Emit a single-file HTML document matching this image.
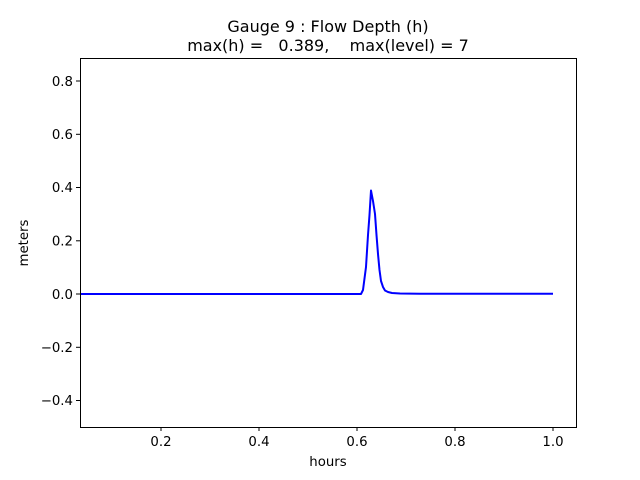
<!DOCTYPE html>
<html><head><style>body{margin:0;background:#fff}svg{display:block}text{font-family:"DejaVu Sans","Liberation Sans",sans-serif;fill:#000}</style></head>
<body>
<svg width="640" height="480" viewBox="0 0 640 480">
<rect width="640" height="480" fill="#fff"/>
<polyline fill="none" stroke="#0000ff" stroke-width="2" stroke-linejoin="round" points="80,294 361,294 363,290 366,267 368,235 369.5,215 371,190.5 373,201 375,214 376.5,235 378,254 379.5,270 381,281 383,287 385,290.5 388,292 392,293 400,293.5 420,293.7 553,293.8"/>
<rect x="80.5" y="58.5" width="496" height="369" fill="none" stroke="#000" stroke-width="1"/>
<g stroke="#000" stroke-width="1">
<line x1="161" y1="427" x2="161" y2="431"/><line x1="259" y1="427" x2="259" y2="431"/><line x1="357" y1="427" x2="357" y2="431"/><line x1="455" y1="427" x2="455" y2="431"/><line x1="553" y1="427" x2="553" y2="431"/>
<line x1="76" y1="81" x2="80" y2="81"/><line x1="76" y1="134.3" x2="80" y2="134.3"/><line x1="76" y1="187.5" x2="80" y2="187.5"/><line x1="76" y1="240.8" x2="80" y2="240.8"/><line x1="76" y1="294" x2="80" y2="294"/><line x1="76" y1="347.3" x2="80" y2="347.3"/><line x1="76" y1="400.5" x2="80" y2="400.5"/>
</g>
<g font-size="13.3" text-anchor="middle">
<text x="161" y="446">0.2</text><text x="259" y="446">0.4</text><text x="357" y="446">0.6</text><text x="455" y="446">0.8</text><text x="553" y="446">1.0</text>
<text x="328" y="466">hours</text>
</g>
<g font-size="13.3" text-anchor="end">
<text x="73" y="86">0.8</text><text x="73" y="139">0.6</text><text x="73" y="192">0.4</text><text x="73" y="245.5">0.2</text><text x="73" y="299">0.0</text><text x="73" y="352">−0.2</text><text x="73" y="405">−0.4</text>
</g>
<text font-size="13.3" text-anchor="middle" transform="translate(28,243) rotate(-90)">meters</text>
<text x="328" y="32" font-size="16" text-anchor="middle">Gauge 9 : Flow Depth (h)</text>
<text x="328" y="51" font-size="16" text-anchor="middle" xml:space="preserve">max(h) =   0.389,    max(level) = 7</text>
</svg>
</body></html>
